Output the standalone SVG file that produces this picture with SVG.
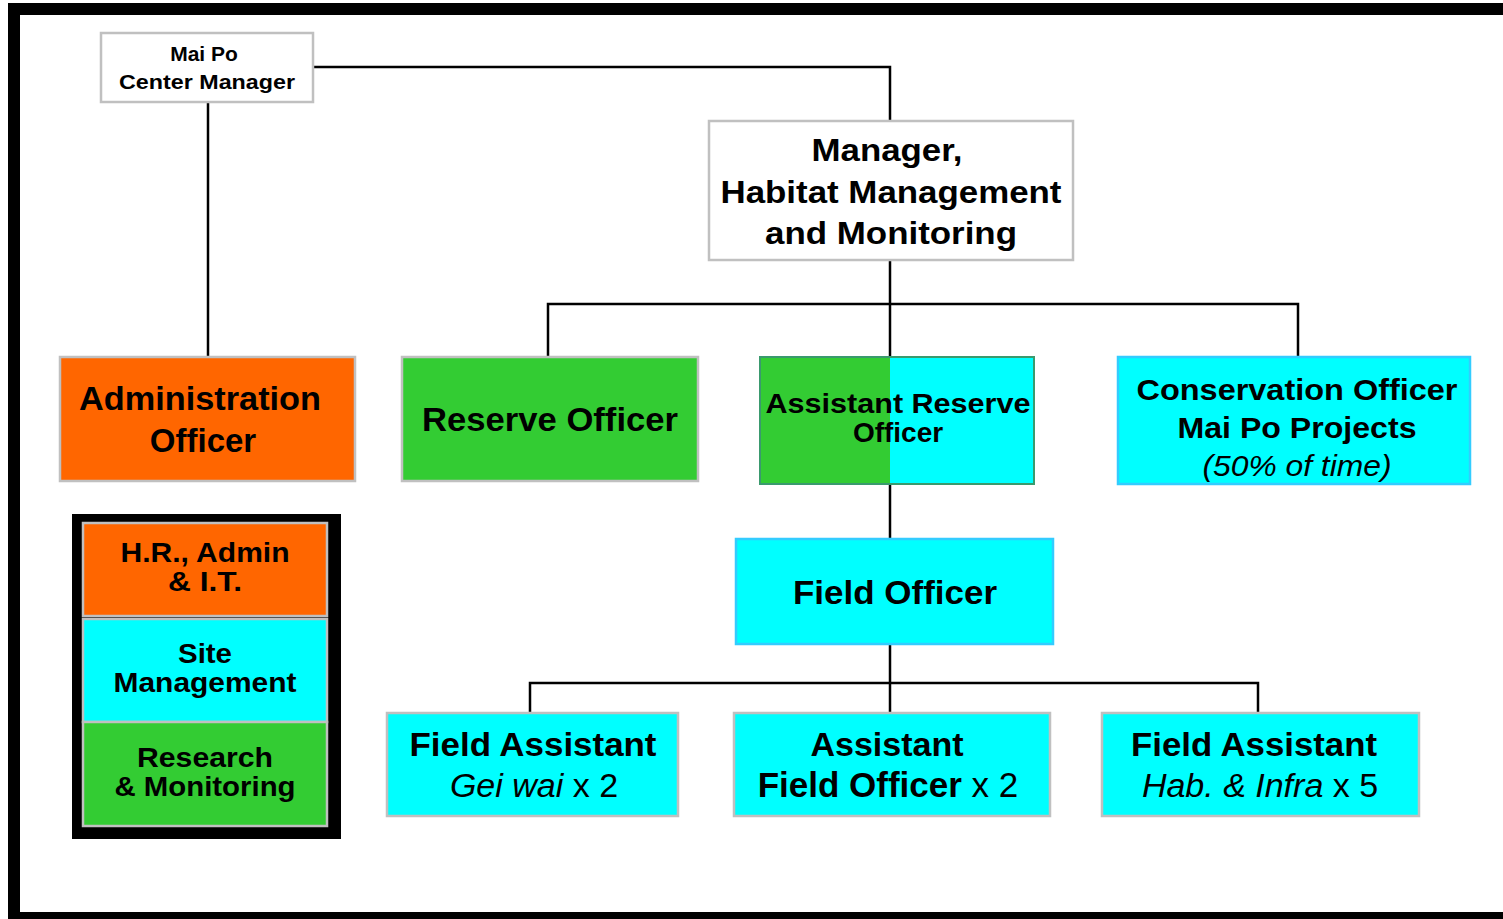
<svg xmlns="http://www.w3.org/2000/svg" width="1503" height="919" viewBox="0 0 1503 919">
  <style>
    .box { stroke: #c0c0c0; stroke-width: 2.5; }
    .white { fill: #ffffff; }
    .orange { fill: #ff6600; }
    .green { fill: #33cc33; }
    .cyan { fill: #00ffff; }
    .blue-edge { stroke: #33ccff; }
    .conn { fill: none; stroke: #000000; stroke-width: 2.5; }
    text { font-family: "Liberation Sans", Arial, sans-serif; fill: #000000; text-anchor: middle; }
    .b { font-weight: bold; }
    .i { font-style: italic; font-weight: normal; }
    .r { font-weight: normal; }
    .key { font-weight: bold; font-size: 28px; }
  </style>

  <!-- page background and frame -->
  <rect x="0" y="0" width="1503" height="919" fill="#ffffff"/>
  <rect x="8" y="3" width="1495" height="12" fill="#000000"/>
  <rect x="8" y="3" width="12" height="916" fill="#000000"/>
  <rect x="8" y="912" width="1495" height="7" fill="#000000"/>

  <!-- reporting lines -->
  <g id="connectors">
    <polyline class="conn" points="313,67 890,67 890,120"/>
    <line class="conn" x1="208" y1="102" x2="208" y2="356"/>
    <line class="conn" x1="890" y1="260" x2="890" y2="356"/>
    <polyline class="conn" points="548,356 548,304 1298,304 1298,356"/>
    <line class="conn" x1="890" y1="484" x2="890" y2="538"/>
    <line class="conn" x1="890" y1="644" x2="890" y2="712"/>
    <polyline class="conn" points="530,712 530,683 1258,683 1258,712"/>
  </g>

  <g id="center-manager">
    <rect class="box white" x="101" y="33" width="212" height="69"/>
    <text class="b" font-size="21" x="204" y="61">Mai  Po</text>
    <text class="b" font-size="21" x="207" y="89" textLength="176" lengthAdjust="spacingAndGlyphs">Center Manager</text>
  </g>

  <g id="habitat-manager">
    <rect class="box white" x="709" y="121" width="364" height="139"/>
    <text class="b" font-size="31" x="887" y="161" textLength="151" lengthAdjust="spacingAndGlyphs">Manager,</text>
    <text class="b" font-size="31" x="891" y="203" textLength="341" lengthAdjust="spacingAndGlyphs">Habitat Management</text>
    <text class="b" font-size="31" x="891" y="244" textLength="252" lengthAdjust="spacingAndGlyphs">and Monitoring</text>
  </g>

  <g id="administration-officer">
    <rect class="box orange" x="60" y="357" width="295" height="124"/>
    <text class="b" font-size="33" x="200" y="410" textLength="242" lengthAdjust="spacingAndGlyphs">Administration</text>
    <text class="b" font-size="33" x="203" y="452">Officer</text>
  </g>

  <g id="reserve-officer">
    <rect class="box green" x="402" y="357" width="296" height="124"/>
    <text class="b" font-size="33" x="550" y="431" textLength="256" lengthAdjust="spacingAndGlyphs">Reserve Officer</text>
  </g>

  <g id="assistant-reserve-officer">
    <rect x="760" y="357" width="130" height="127" fill="#33cc33"/>
    <rect x="890" y="357" width="144" height="127" fill="#00ffff"/>
    <rect x="760" y="357" width="274" height="127" fill="none" stroke="#3a9a6e" stroke-width="2"/>
    <text class="b" font-size="28" x="898" y="413" textLength="265" lengthAdjust="spacingAndGlyphs">Assistant  Reserve</text>
    <text class="b" font-size="28" x="898" y="442">Officer</text>
  </g>

  <g id="conservation-officer">
    <rect class="cyan blue-edge" stroke-width="2.5" x="1118" y="357" width="352" height="127"/>
    <text class="b" font-size="30" x="1297" y="400" textLength="321" lengthAdjust="spacingAndGlyphs">Conservation Officer</text>
    <text class="b" font-size="30" x="1297" y="438" textLength="239" lengthAdjust="spacingAndGlyphs">Mai Po Projects</text>
    <text class="i" font-size="30" x="1297" y="476" textLength="189" lengthAdjust="spacingAndGlyphs">(50% of time)</text>
  </g>

  <g id="field-officer">
    <rect class="cyan blue-edge" stroke-width="2.5" x="736" y="539" width="317" height="105"/>
    <text class="b" font-size="34" x="895" y="604" textLength="204" lengthAdjust="spacingAndGlyphs">Field Officer</text>
  </g>

  <g id="field-assistant-gei-wai">
    <rect class="box cyan" x="387" y="713" width="291" height="103"/>
    <text class="b" font-size="34" x="533" y="756" textLength="247" lengthAdjust="spacingAndGlyphs">Field Assistant</text>
    <text font-size="34" x="534" y="797"><tspan class="i">Gei wai</tspan><tspan class="r"> x 2</tspan></text>
  </g>

  <g id="assistant-field-officer">
    <rect class="box cyan" x="734" y="713" width="316" height="103"/>
    <text class="b" font-size="34" x="887" y="756">Assistant</text>
    <text font-size="35" x="888" y="797"><tspan class="b">Field Officer</tspan><tspan class="r"> x 2</tspan></text>
  </g>

  <g id="field-assistant-habitat">
    <rect class="box cyan" x="1102" y="713" width="317" height="103"/>
    <text class="b" font-size="34" x="1254" y="756" textLength="246" lengthAdjust="spacingAndGlyphs">Field Assistant</text>
    <text font-size="34" x="1260" y="797"><tspan class="i">Hab. &amp; Infra</tspan><tspan class="r"> x 5</tspan></text>
  </g>

  <g id="legend">
    <rect x="72" y="514" width="269" height="325" fill="#000000"/>
    <rect x="83" y="523" width="244" height="93" fill="#ff6600" stroke="#c0c0c0" stroke-width="2.5"/>
    <rect x="83" y="619" width="244" height="103" fill="#00ffff" stroke="#c0c0c0" stroke-width="2.5"/>
    <rect x="83" y="722" width="244" height="104" fill="#33cc33" stroke="#c0c0c0" stroke-width="2.5"/>
    <text class="key" x="205" y="562" textLength="169" lengthAdjust="spacingAndGlyphs">H.R., Admin</text>
    <text class="key" x="205" y="591" textLength="74" lengthAdjust="spacingAndGlyphs">&amp; I.T.</text>
    <text class="key" x="205" y="663" textLength="54" lengthAdjust="spacingAndGlyphs">Site</text>
    <text class="key" x="205" y="692" textLength="183" lengthAdjust="spacingAndGlyphs">Management</text>
    <text class="key" x="205" y="767" textLength="136" lengthAdjust="spacingAndGlyphs">Research</text>
    <text class="key" x="205" y="796" textLength="181" lengthAdjust="spacingAndGlyphs">&amp; Monitoring</text>
  </g>
</svg>
